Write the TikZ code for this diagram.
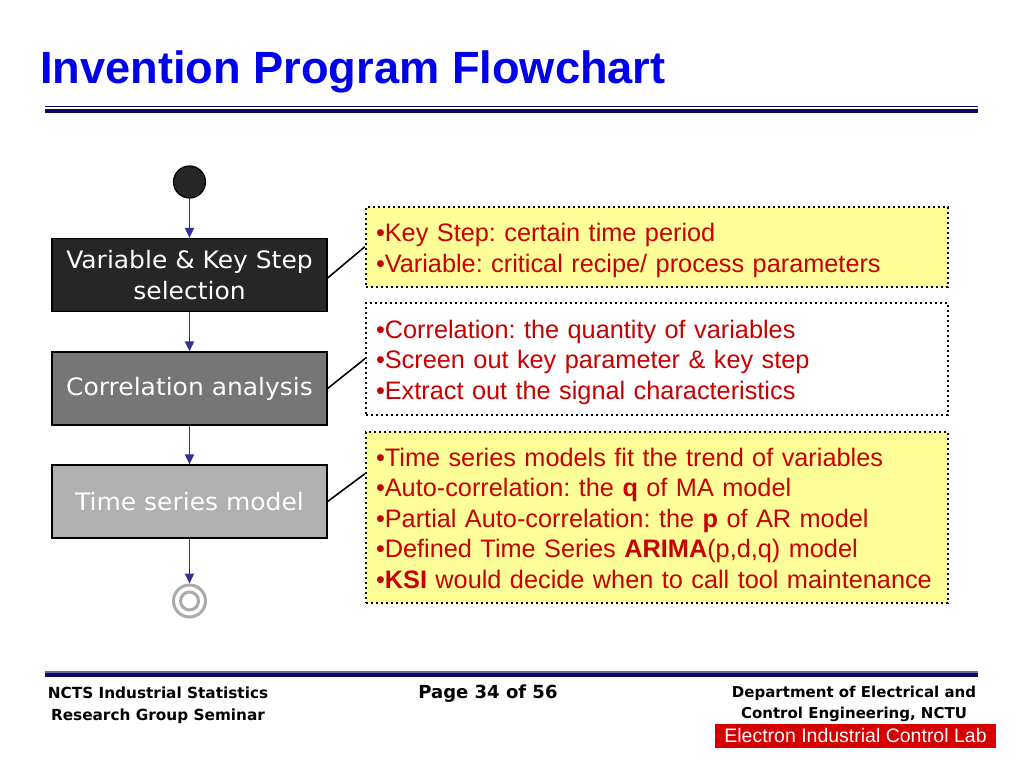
\documentclass[tikz,border=0pt]{standalone}
\usepackage{fontspec}
\setmainfont{Liberation Sans}
\newfontfamily\boxfont[FakeStretch=1.04]{DejaVu Sans}
\newfontfamily\footfont{DejaVu Sans}
\usetikzlibrary{arrows.meta}
\definecolor{titleblue}{RGB}{0,0,235}
\definecolor{navy}{RGB}{10,10,100}
\definecolor{arrowblue}{RGB}{50,50,150}
\definecolor{txtred}{RGB}{200,0,0}
\definecolor{callyellow}{RGB}{255,255,153}
\definecolor{box1}{RGB}{38,38,38}
\definecolor{box2}{RGB}{118,118,118}
\definecolor{box3}{RGB}{176,176,176}
\definecolor{endgray}{RGB}{170,170,170}
\definecolor{labred}{RGB}{215,0,0}
\newcommand{\topline}{\rule{0pt}{25pt}}
\newcommand{\botline}{\rule[-5.5pt]{0pt}{5.5pt}}
\tikzset{
  flowbox/.style={draw=black, line width=1.2pt, minimum width=275pt, minimum height=73pt,
    text=white, font=\boxfont\fontsize{24}{31}\selectfont, align=center, inner sep=0pt},
  callout/.style={draw=black, line width=2.4pt, dash pattern=on 2.4pt off 2.6pt,
    minimum width=582pt, text width=562pt, inner xsep=10pt, inner ysep=0pt, align=left,
    text=txtred, font=\frenchspacing\fontsize{25.3}{30.5}\selectfont},
  flowarrow/.style={draw=arrowblue, line width=1.8pt, -{Triangle[width=9pt,length=10pt]}},
  link/.style={draw=black, line width=1.6pt},
  foot/.style={font=\footfont\bfseries, align=center, inner sep=0pt}
}
\begin{document}
\begin{tikzpicture}[x=1pt,y=-1pt]
\useasboundingbox (0,0) rectangle (1024,768);
% title
\node[anchor=base west, inner sep=0pt, text=titleblue, font=\bfseries\fontsize{45.2}{50}\selectfont] (title) at (40,83) {Invention Program Flowchart};
\fill[navy] (45,105.5) rectangle (978,107);
\fill[navy] (45,109) rectangle (978,113);
% flow
\node[circle, draw=black, line width=1.2pt, fill=box1, minimum size=32pt, inner sep=0pt] (start) at (189.5,182) {};
\node[flowbox, fill=box1] (b1) at (189.5,275) {Variable \& Key Step\\selection};
\node[flowbox, fill=box2] (b2) at (189.5,388.5) {Correlation analysis};
\node[flowbox, fill=box3] (b3) at (189.5,501.5) {Time series model};
\node[circle, draw=endgray, line width=3pt, minimum size=32pt, inner sep=0pt] (end) at (189.5,601) {};
\node[circle, draw=endgray, line width=3pt, minimum size=18pt, inner sep=0pt] (endin) at (189.5,601) {};
\draw[flowarrow] (start) -- (b1);
\draw[flowarrow] (b1) -- (b2);
\draw[flowarrow] (b2) -- (b3);
\draw[flowarrow] (b3) -- (end);
% callouts
\node[callout, fill=callyellow, minimum height=80pt] (c1) at (657,247) {%
\topline\textbullet Key Step: certain time period\\
\textbullet Variable: critical recipe/ process parameters\botline};
\node[callout, fill=white, minimum height=112pt] (c2) at (657,359) {%
\topline\textbullet Correlation: the quantity of variables\\
\textbullet Screen out key parameter \& key step\\
\textbullet Extract out the signal characteristics\botline};
\node[callout, fill=callyellow, minimum height=171pt] (c3) at (657,517.5) {%
\topline\textbullet Time series models fit the trend of variables\\
\textbullet Auto-correlation: the \textbf{q} of MA model\\
\textbullet Partial Auto-correlation: the \textbf{p} of AR model\\
\textbullet Defined Time Series \textbf{ARIMA}(p,d,q) model\\
\textbullet \textbf{KSI} would decide when to call tool maintenance\botline};
\draw[link] ([yshift=-3pt]b1.east) -- ([yshift=-41pt]c1.north west);
\draw[link] (b2.east) -- ([yshift=-57pt]c2.north west);
\draw[link] (b3.east) -- ([yshift=-43pt]c3.north west);
% footer
\fill[navy!60] (45,671) rectangle (978,673);
\fill[navy] (45,673) rectangle (978,677);
\node[foot, font=\footfont\bfseries\fontsize{15.3}{22}\selectfont] (f1) at (158,705) {NCTS Industrial Statistics\\Research Group Seminar};
\node[foot, font=\footfont\bfseries\fontsize{18}{22}\selectfont] (f2) at (488,694) {Page 34 of 56};
\node[foot, font=\footfont\bfseries\fontsize{15}{21}\selectfont] (f3) at (854,703.5) {Department of Electrical and\\Control Engineering, NCTU};
\node[fill=labred, text=white, font=\fontsize{19.5}{20}\selectfont, minimum width=281pt, minimum height=24pt, inner sep=0pt] (lab) at (855.5,736) {Electron Industrial Control Lab};
\end{tikzpicture}
\end{document}
